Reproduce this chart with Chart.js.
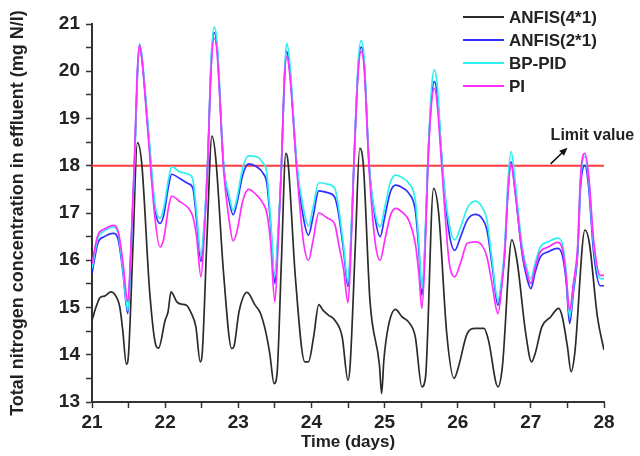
<!DOCTYPE html>
<html>
<head>
<meta charset="utf-8">
<script src="https://cdn.jsdelivr.net/npm/chart.js@4"></script>
<style>
  body { margin: 0; background: #fff; }
  canvas { display: block; }
</style>
</head>
<body>
<canvas id="nitrogen" width="640" height="456"></canvas>
<script>
const fontFamily = 'Arial, "Liberation Sans", sans-serif';

// ANFIS(4*1) has its own sampling, the other three share one
const anfis41Times = [21.00, 21.06, 21.11, 21.17, 21.26, 21.31, 21.38, 21.42, 21.47, 21.50, 21.56, 21.62, 21.68, 21.79, 21.88, 21.91,
  22.00, 22.04, 22.08, 22.16, 22.22, 22.29, 22.36, 22.42, 22.48, 22.51, 22.57, 22.64, 22.69, 22.80, 22.91, 22.94,
  23.01, 23.12, 23.23, 23.30, 23.37, 23.43, 23.49, 23.53, 23.59, 23.65, 23.68, 23.78, 23.91, 23.96,
  24.03, 24.10, 24.16, 24.23, 24.32, 24.42, 24.50, 24.53, 24.60, 24.66, 24.71, 24.80, 24.93, 24.96, 24.99,
  25.05, 25.15, 25.24, 25.33, 25.42, 25.51, 25.56, 25.67, 25.74, 25.85, 25.95,
  26.01, 26.13, 26.24, 26.36, 26.42, 26.55, 26.61, 26.74, 26.81, 26.93,
  27.01, 27.06, 27.15, 27.27, 27.38, 27.43, 27.50, 27.55, 27.60, 27.74, 27.80, 27.91, 28.00];
const anfis41 = [14.73, 15.03, 15.21, 15.24, 15.33, 15.28, 15.01, 14.52, 13.80, 14.03, 16.30, 18.49, 18.05, 15.30, 14.17, 14.14,
  14.73, 14.91, 15.33, 15.12, 15.07, 15.05, 14.87, 14.59, 13.85, 14.10, 16.40, 18.63, 18.19, 15.70, 14.13, 14.17,
  14.91, 15.32, 15.05, 14.89, 14.52, 14.03, 13.39, 13.60, 16.00, 18.26, 18.08, 15.65, 13.85, 13.85,
  14.38, 15.06, 14.94, 14.84, 14.73, 14.38, 13.46, 13.80, 16.30, 18.37, 18.01, 15.15, 13.78, 13.18, 13.88,
  14.59, 14.96, 14.80, 14.69, 14.38, 13.32, 13.53, 17.52, 16.99, 14.45, 13.50,
  13.74, 14.45, 14.56, 14.56, 14.31, 13.32, 13.74, 16.43, 16.00, 14.45,
  13.85, 14.03, 14.59, 14.80, 14.98, 14.80, 14.17, 13.64, 14.03, 16.64, 16.36, 14.80, 14.10];

const sharedTimes = [21.00, 21.08, 21.17, 21.29, 21.36, 21.42, 21.49, 21.53, 21.58, 21.62, 21.65, 21.68, 21.76, 21.86, 21.93, 21.98,
  22.05, 22.09, 22.20, 22.32, 22.38, 22.43, 22.49, 22.53, 22.58, 22.63, 22.67, 22.71, 22.80, 22.87, 22.93, 22.98,
  23.06, 23.14, 23.25, 23.34, 23.39, 23.44, 23.50, 23.54, 23.59, 23.63, 23.66, 23.70, 23.80, 23.89, 23.96,
  24.02, 24.10, 24.22, 24.32, 24.37, 24.44, 24.50, 24.54, 24.58, 24.64, 24.68, 24.72, 24.79, 24.87, 24.94,
  25.00, 25.08, 25.15, 25.26, 25.33, 25.42, 25.47, 25.51, 25.55, 25.59, 25.64, 25.68, 25.72, 25.79, 25.88, 25.96,
  26.04, 26.13, 26.24, 26.33, 26.40, 26.47, 26.55, 26.60, 26.64, 26.69, 26.73, 26.78, 26.88, 26.95,
  27.00, 27.06, 27.13, 27.24, 27.36, 27.43, 27.48, 27.53, 27.58, 27.64, 27.68, 27.74, 27.79, 27.86, 27.95, 28.00];
const anfis21 = [15.72, 16.36, 16.50, 16.57, 16.43, 15.79, 14.87, 16.10, 18.00, 19.90, 20.52, 20.30, 18.90, 17.10, 16.78, 16.95,
  17.60, 17.82, 17.73, 17.62, 17.52, 16.85, 15.97, 16.60, 18.00, 20.20, 20.82, 20.50, 18.00, 17.30, 16.96, 17.20,
  17.80, 18.04, 17.98, 17.84, 17.63, 16.80, 15.51, 16.40, 18.00, 19.80, 20.42, 20.10, 18.00, 16.90, 16.53,
  16.90, 17.47, 17.43, 17.33, 16.99, 16.20, 15.44, 16.40, 18.00, 20.10, 20.51, 20.20, 18.00, 16.90, 16.50,
  16.90, 17.45, 17.59, 17.52, 17.42, 17.06, 16.20, 15.26, 16.20, 18.00, 19.40, 19.78, 19.50, 18.00, 16.60, 16.21,
  16.50, 16.85, 16.97, 16.89, 16.64, 15.90, 15.05, 15.50, 16.10, 17.55, 18.08, 17.55, 16.14, 15.60,
  15.40, 15.75, 16.07, 16.18, 16.25, 16.11, 15.60, 14.66, 15.30, 16.14, 17.55, 18.01, 17.55, 16.14, 15.46, 15.46];
const bpPid = [15.83, 16.46, 16.62, 16.70, 16.55, 15.85, 14.94, 16.10, 18.00, 19.90, 20.58, 20.35, 18.97, 17.20, 16.89, 17.10,
  17.75, 17.98, 17.87, 17.82, 17.70, 17.00, 16.11, 16.70, 18.00, 20.30, 20.94, 20.60, 18.00, 17.40, 17.06, 17.30,
  17.95, 18.21, 18.19, 18.05, 17.84, 16.90, 15.65, 16.50, 18.00, 19.90, 20.59, 20.25, 18.05, 17.10, 16.72,
  17.10, 17.64, 17.61, 17.52, 17.13, 16.30, 15.54, 16.50, 18.00, 20.20, 20.65, 20.30, 18.00, 17.00, 16.71,
  17.10, 17.65, 17.80, 17.73, 17.63, 17.27, 16.35, 15.40, 16.30, 18.00, 19.60, 20.03, 19.70, 18.00, 16.80, 16.43,
  16.70, 17.10, 17.25, 17.13, 16.85, 16.00, 15.15, 15.60, 16.25, 17.75, 18.30, 17.75, 16.30, 15.80,
  15.61, 15.95, 16.28, 16.39, 16.47, 16.36, 15.80, 14.80, 15.40, 16.25, 17.70, 18.20, 17.70, 16.30, 15.61, 15.61];
const pi = [15.93, 16.53, 16.66, 16.74, 16.60, 16.00, 15.12, 16.20, 18.10, 20.00, 20.56, 20.30, 18.80, 16.90, 16.28, 16.45,
  17.15, 17.36, 17.24, 17.10, 16.92, 16.50, 15.65, 16.40, 18.00, 20.10, 20.70, 20.40, 17.90, 16.90, 16.41, 16.60,
  17.25, 17.50, 17.38, 17.20, 17.00, 16.40, 15.12, 16.20, 18.00, 19.80, 20.31, 20.00, 17.90, 16.40, 16.00,
  16.40, 17.00, 16.89, 16.76, 16.36, 15.80, 15.10, 16.20, 18.00, 20.00, 20.42, 20.10, 17.90, 16.40, 16.00,
  16.40, 16.95, 17.10, 16.99, 16.85, 16.36, 15.70, 14.98, 16.00, 17.90, 19.30, 19.64, 19.30, 17.80, 16.00, 15.65,
  15.95, 16.36, 16.39, 16.32, 16.07, 15.50, 14.87, 15.40, 16.10, 17.50, 18.05, 17.50, 16.20, 15.70,
  15.51, 15.85, 16.18, 16.28, 16.38, 16.25, 15.70, 14.94, 15.50, 16.30, 17.80, 18.26, 17.80, 16.40, 15.68, 15.68];

const limitValue = 18;
const seriesNames = ['ANFIS(4*1)', 'ANFIS(2*1)', 'BP-PID', 'PI'];
const seriesColors = ['#2b2b2b', '#2f2fff', '#2ef0f0', '#ff2eff'];
const xTicks = [21, 28];
const yTicks = [13, 21];

const pairs = (ts, vs) => ts.map((t, i) => ({ x: t, y: vs[i] }));

const lineSet = (idx, pts) => ({
  label: seriesNames[idx],
  data: pts,
  borderColor: seriesColors[idx],
  borderWidth: 1.7,
  pointRadius: 0,
  fill: false,
  cubicInterpolationMode: 'monotone',
  order: 3 - idx
});

const datasets = [
  lineSet(0, pairs(anfis41Times, anfis41)),
  lineSet(1, pairs(sharedTimes, anfis21)),
  lineSet(2, pairs(sharedTimes, bpPid)),
  lineSet(3, pairs(sharedTimes, pi)),
  {
    label: 'Limit value',
    data: [{ x: xTicks[0], y: limitValue }, { x: xTicks[1], y: limitValue }],
    borderColor: '#ff3b3b',
    borderWidth: 2,
    pointRadius: 0,
    order: 4
  }
];

// legend box and the "Limit value" note
const overlay = {
  id: 'overlay',
  afterDatasetsDraw(chart) {
    const { ctx, chartArea, scales: { x, y } } = chart;
    ctx.save();
    ctx.font = 'bold 17px ' + fontFamily;
    ctx.textBaseline = 'middle';
    ctx.textAlign = 'left';
    const lx = chartArea.right - 141;
    seriesNames.forEach((name, i) => {
      const ly = 17 + i * 23;
      ctx.strokeStyle = seriesColors[i];
      ctx.lineWidth = 2;
      ctx.beginPath();
      ctx.moveTo(lx, ly);
      ctx.lineTo(lx + 41, ly);
      ctx.stroke();
      ctx.fillStyle = '#222';
      ctx.fillText(name, lx + 46, ly + 1);
    });

    ctx.font = 'bold 16px ' + fontFamily;
    ctx.fillText('Limit value', x.getPixelForValue(27.27), y.getPixelForValue(18.64));

    const x0 = x.getPixelForValue(27.27), y0 = y.getPixelForValue(18.04);
    const x1 = x.getPixelForValue(27.5), y1 = y.getPixelForValue(18.38);
    const ang = Math.atan2(y1 - y0, x1 - x0);
    ctx.strokeStyle = '#111';
    ctx.fillStyle = '#111';
    ctx.lineWidth = 1.5;
    ctx.beginPath();
    ctx.moveTo(x0, y0);
    ctx.lineTo(x1 - 4 * Math.cos(ang), y1 - 4 * Math.sin(ang));
    ctx.stroke();
    ctx.beginPath();
    ctx.moveTo(x1, y1);
    ctx.lineTo(x1 - 8 * Math.cos(ang) + 3.5 * Math.sin(ang), y1 - 8 * Math.sin(ang) - 3.5 * Math.cos(ang));
    ctx.lineTo(x1 - 8 * Math.cos(ang) - 3.5 * Math.sin(ang), y1 - 8 * Math.sin(ang) + 3.5 * Math.cos(ang));
    ctx.closePath();
    ctx.fill();
    ctx.restore();
  }
};

const intLabel = v => (Number.isInteger(v) ? v : '');

const axisGrid = {
  display: true,
  drawOnChartArea: false,
  drawTicks: true,
  tickLength: 6,
  tickColor: '#333',
  tickWidth: 1.5
};

const config = {
  type: 'line',
  data: { datasets: datasets },
  options: {
    responsive: false,
    animation: false,
    layout: { padding: { top: 24, right: 36, bottom: 0, left: 0 } },
    plugins: {
      legend: { display: false },
      tooltip: { enabled: false }
    },
    scales: {
      x: {
        type: 'linear',
        min: xTicks[0],
        max: xTicks[1],
        grid: axisGrid,
        border: { color: '#333', width: 2 },
        ticks: {
          stepSize: 0.5,
          autoSkip: false,
          maxRotation: 0,
          padding: 3,
          color: '#222',
          font: { family: fontFamily, size: 19, weight: 'bold' },
          callback: intLabel
        },
        title: {
          display: true,
          text: 'Time (days)',
          color: '#222',
          font: { family: fontFamily, size: 17, weight: 'bold' },
          padding: { top: 0, bottom: 3 }
        },
        afterFit: s => { s.height = 54; }
      },
      y: {
        min: yTicks[0],
        max: yTicks[1],
        grid: axisGrid,
        border: { color: '#333', width: 2 },
        ticks: {
          stepSize: 0.5,
          autoSkip: false,
          padding: 6,
          color: '#222',
          font: { family: fontFamily, size: 19, weight: 'bold' },
          callback: intLabel
        },
        title: {
          display: true,
          text: 'Total nitrogen concentration in effluent (mg N/l)',
          color: '#222',
          font: { family: fontFamily, size: 18, weight: 'bold' },
          padding: { top: 7, bottom: 0 }
        },
        afterFit: s => { s.width = 92; }
      }
    }
  },
  plugins: [overlay]
};

new Chart(document.getElementById('nitrogen').getContext('2d'), config);
</script>
</body>
</html>
